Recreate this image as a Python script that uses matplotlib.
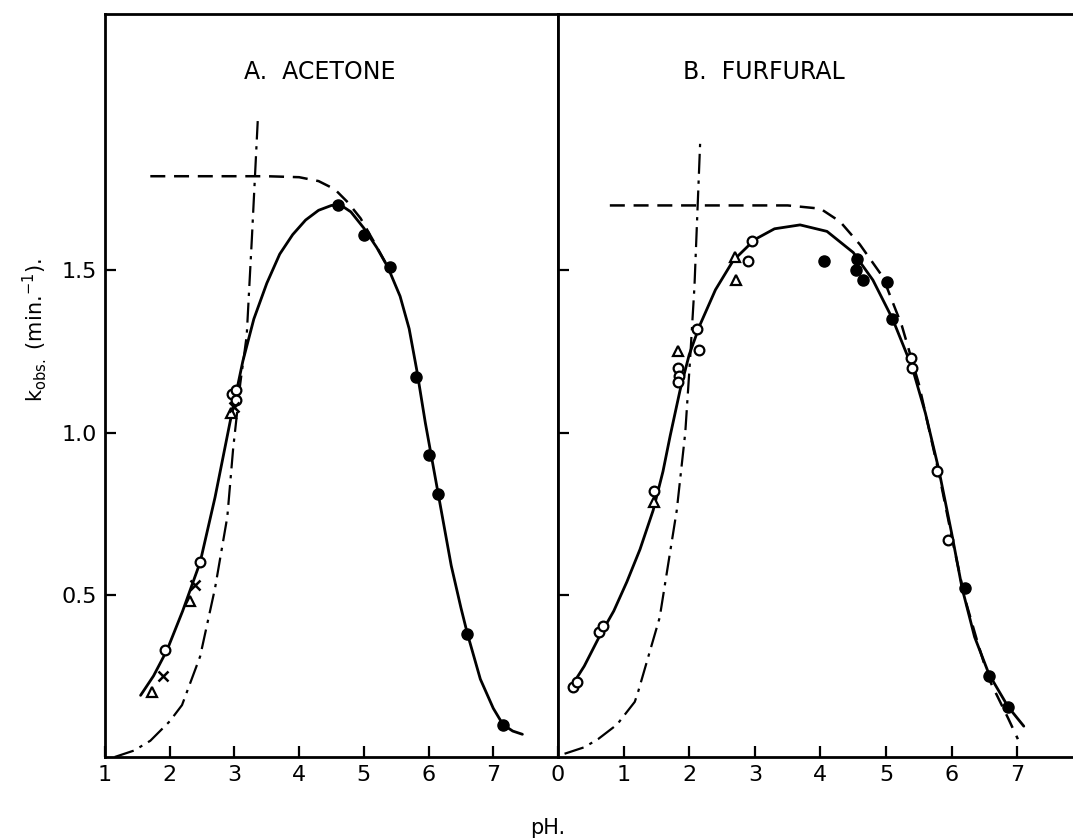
import matplotlib
matplotlib.use("Agg")
import matplotlib.pyplot as plt

plt.rcParams['font.family'] = ['DejaVu Sans']

# ---------------- Panel A: Acetone ----------------
a_solid_x = [1.55, 1.75, 1.96, 2.2, 2.47, 2.7, 2.93, 3.13, 3.3, 3.5, 3.7, 3.9, 4.1, 4.3, 4.5, 4.65, 4.8, 5.0, 5.2, 5.37, 5.56, 5.7, 5.82, 5.95, 6.05, 6.15, 6.35, 6.5, 6.6, 6.8, 7.0, 7.15, 7.3, 7.45]
a_solid_y = [0.19, 0.25, 0.33, 0.45, 0.60, 0.80, 1.03, 1.22, 1.35, 1.46, 1.55, 1.61, 1.655, 1.685, 1.70, 1.70, 1.68, 1.63, 1.57, 1.51, 1.42, 1.32, 1.19, 1.03, 0.92, 0.81, 0.59, 0.46, 0.38, 0.24, 0.15, 0.10, 0.08, 0.07]

a_dash_x = [1.70, 2.5, 3.5, 4.0, 4.3, 4.55, 4.75, 4.95, 5.15, 5.4]
a_dash_y = [1.79, 1.79, 1.79, 1.787, 1.775, 1.75, 1.71, 1.66, 1.59, 1.50]

a_dd_x = [1.15, 1.45, 1.70, 2.0, 2.19, 2.47, 2.70, 2.89, 2.98, 3.09, 3.19, 3.27, 3.36]
a_dd_y = [0.0, 0.02, 0.05, 0.11, 0.16, 0.31, 0.52, 0.74, 0.95, 1.15, 1.30, 1.60, 1.96]

a_open_x = [1.93, 2.47, 2.96, 3.03, 3.03]
a_open_y = [0.33, 0.60, 1.12, 1.13, 1.10]
a_tri_x = [1.73, 2.31, 2.95]
a_tri_y = [0.20, 0.48, 1.06]
a_cross_x = [1.90, 2.39, 2.99]
a_cross_y = [0.25, 0.53, 1.08]
a_fill_x = [4.6, 5.0, 5.4, 5.8, 6.0, 6.15, 6.6, 7.15]
a_fill_y = [1.70, 1.61, 1.51, 1.17, 0.93, 0.81, 0.38, 0.10]

# ---------------- Panel B: Furfural ----------------
b_solid_x = [0.18, 0.4, 0.64, 0.85, 1.05, 1.25, 1.45, 1.6, 1.71, 1.86, 2.0, 2.16, 2.4, 2.67, 3.0, 3.3, 3.69, 4.1, 4.5, 4.8, 5.1, 5.4, 5.6, 5.8, 6.0, 6.16, 6.35, 6.57, 6.86, 7.1]
b_solid_y = [0.21, 0.28, 0.375, 0.45, 0.54, 0.64, 0.76, 0.88, 0.99, 1.13, 1.24, 1.33, 1.44, 1.53, 1.595, 1.628, 1.64, 1.62, 1.555, 1.47, 1.35, 1.20, 1.06, 0.89, 0.69, 0.52, 0.37, 0.255, 0.155, 0.095]

b_dash_x = [0.79, 1.5, 2.5, 3.5, 4.0, 4.3, 4.6, 4.95, 5.24, 5.5, 5.8, 6.0, 6.2, 6.4, 6.57, 6.86, 7.01]
b_dash_y = [1.70, 1.70, 1.70, 1.70, 1.69, 1.65, 1.58, 1.48, 1.33, 1.15, 0.88, 0.68, 0.49, 0.35, 0.24, 0.12, 0.055]

b_dd_x = [0.1, 0.4, 0.61, 0.9, 1.17, 1.22, 1.55, 1.81, 1.94, 2.01, 2.08, 2.17]
b_dd_y = [0.01, 0.03, 0.055, 0.10, 0.17, 0.20, 0.43, 0.76, 1.0, 1.215, 1.45, 1.91]

b_open_x = [0.23, 0.29, 0.625, 0.69, 1.46, 1.83, 1.84, 1.83, 2.12, 2.15, 2.90, 2.96, 5.38, 5.40, 5.77, 5.95]
b_open_y = [0.215, 0.23, 0.385, 0.403, 0.82, 1.20, 1.175, 1.155, 1.32, 1.255, 1.53, 1.59, 1.23, 1.20, 0.88, 0.67]
b_tri_x = [1.47, 1.83, 2.70, 2.71]
b_tri_y = [0.785, 1.25, 1.54, 1.47]
b_fill_x = [4.05, 4.56, 4.54, 4.65, 5.02, 5.09, 6.2, 6.57, 6.86]
b_fill_y = [1.53, 1.535, 1.50, 1.47, 1.465, 1.35, 0.52, 0.25, 0.154]

y_ticks = [0.5, 1.0, 1.5]
y_tick_labels = ["0.5", "1.0", "1.5"]
a_xticks = [1, 2, 3, 4, 5, 6, 7]
b_xticks = [0, 1, 2, 3, 4, 5, 6, 7]

W, H = 1073, 840
fig = plt.figure(figsize=(W / 100, H / 100), dpi=100)
bot = (H - 757) / H
top = (H - 14) / H
axA = fig.add_axes([105 / W, bot, (558 - 105) / W, top - bot])
axB = fig.add_axes([558 / W, bot, (W - 558) / W, top - bot])

dd_style = (0, (9, 3, 1.5, 3))
dash_style = (0, (6, 3.5))

def style(ax, xlim, xticks):
    ax.set_xlim(*xlim)
    ax.set_ylim(0, 2.29)
    ax.set_xticks(xticks)
    ax.set_xticklabels([str(t) for t in xticks])
    ax.set_yticks(y_ticks)
    ax.tick_params(direction='in', length=8, width=1.6, labelsize=16, pad=6)
    for s in ax.spines.values():
        s.set_linewidth(2.0)

# Panel A
axA.plot(a_solid_x, a_solid_y, color='black', lw=2.0, solid_capstyle='round', solid_joinstyle='round')
axA.plot(a_dash_x, a_dash_y, color='black', lw=1.8, linestyle=dash_style)
axA.plot(a_dd_x, a_dd_y, color='black', lw=1.6, linestyle=dd_style)
axA.plot(a_open_x, a_open_y, 'o', ms=7, mfc='white', mec='black', mew=1.6)
axA.plot(a_tri_x, a_tri_y, '^', ms=7, mfc='white', mec='black', mew=1.6)
axA.plot(a_cross_x, a_cross_y, 'x', ms=7, mec='black', mew=1.8)
axA.plot(a_fill_x, a_fill_y, 'o', ms=8, color='black')
style(axA, (1, 8), a_xticks)
axA.set_yticklabels(y_tick_labels)
axA.text(0.475, 0.922, "A.  ACETONE", transform=axA.transAxes, ha='center', va='center', fontsize=17)

# Panel B
axB.plot(b_solid_x, b_solid_y, color='black', lw=2.0, solid_capstyle='round', solid_joinstyle='round')
axB.plot(b_dash_x, b_dash_y, color='black', lw=1.8, linestyle=dash_style)
axB.plot(b_dd_x, b_dd_y, color='black', lw=1.6, linestyle=dd_style)
axB.plot(b_open_x, b_open_y, 'o', ms=7, mfc='white', mec='black', mew=1.6)
axB.plot(b_tri_x, b_tri_y, '^', ms=7, mfc='white', mec='black', mew=1.6)
axB.plot(b_fill_x, b_fill_y, 'o', ms=8, color='black')
style(axB, (0, 7.85), b_xticks)
axB.set_yticklabels([])
axB.spines['right'].set_visible(False)
axB.text(0.40, 0.922, "B.  FURFURAL", transform=axB.transAxes, ha='center', va='center', fontsize=17)

fig.text(35 / W, (H - 330) / H, r"k$_{\mathrm{obs.}}$ (min.$^{-1}$).", rotation=90,
         ha='center', va='center', fontsize=15)
fig.text(548 / W, 12 / H, "pH.", ha='center', va='center', fontsize=15)

fig.savefig("out.png", dpi=100)
